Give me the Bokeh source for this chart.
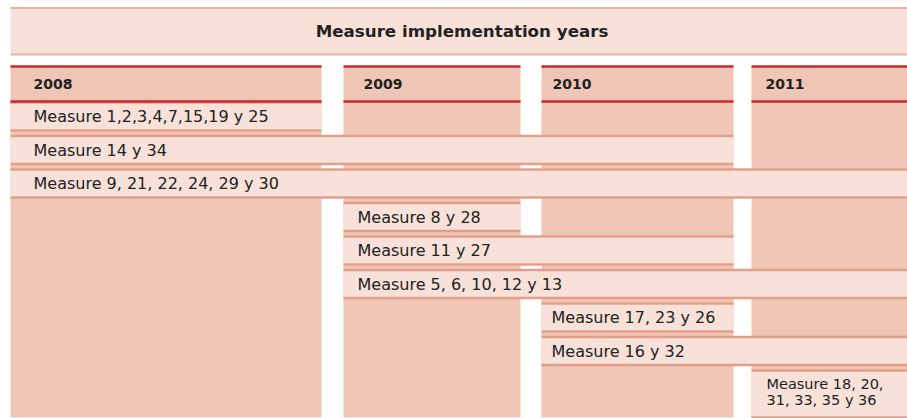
from bokeh.plotting import figure
from bokeh.models import Range1d, ColumnDataSource
from bokeh.embed import file_html
from bokeh.resources import INLINE
from bokeh.core.properties import value

# ---------------- data ----------------
title = "Measure implementation years"
years = [2008, 2009, 2010, 2011]
year_labels = ["2008", "2009", "2010", "2011"]
measures = [
    "Measure 1,2,3,4,7,15,19 y 25",
    "Measure 14 y 34",
    "Measure 9, 21, 22, 24, 29 y 30",
    "Measure 8 y 28",
    "Measure 11 y 27",
    "Measure 5, 6, 10, 12 y 13",
    "Measure 17, 23 y 26",
    "Measure 16 y 32",
    "Measure 18, 20,\n31, 33, 35 y 36",
]
start_year = [2008, 2008, 2008, 2009, 2009, 2009, 2010, 2010, 2011]
end_year = [2008, 2010, 2011, 2009, 2010, 2011, 2010, 2011, 2011]
measure_lines = [1, 1, 1, 1, 1, 1, 1, 1, 2]

# ---------------- layout (page pixels) ----------------
col_left = {2008: 10, 2009: 343, 2010: 541, 2011: 751}
col_right = {2008: 321, 2009: 520, 2010: 733, 2011: 907}
header_pad = {2008: 23, 2009: 20, 2010: 11, 2011: 14}
label_pad = {2008: 23, 2009: 14, 2010: 10, 2011: 15}
title_top, title_bottom = 7.5, 54
head_top, head_bottom = 66, 101
body_bottom = 417
row_top0, row_pitch, row_h, row_h2 = 102, 33.5, 28, 47

C_COL = "#EFC6B5"
C_BAR = "#F7E1D9"
C_LINE = "#E2A08A"
C_RED = "#C62A2F"
C_TXT = "#222222"
FONT = value("DejaVu Sans")

p = figure(width=907, height=418, x_range=Range1d(0, 907), y_range=Range1d(418, 0),
           output_backend="svg", toolbar_location=None, min_border=0,
           x_axis_location=None, y_axis_location=None)
p.grid.visible = False
p.outline_line_color = None
p.background_fill_color = "white"
p.border_fill_color = "white"

# title band
p.quad(left=[10], right=[907], top=[title_top], bottom=[title_bottom],
       fill_color=C_BAR, line_color=None)
p.segment(x0=[10, 10], x1=[907, 907], y0=[title_top, title_bottom], y1=[title_top, title_bottom],
          line_color="#E8B4A2", line_width=2)
p.text(x=[(10 + 907) / 2 + 3], y=[(title_top + title_bottom) / 2], text=[title],
       text_align="center", text_baseline="middle", text_font=FONT,
       text_font_style="bold", text_font_size="16.7px", text_color=C_TXT)

# year columns
cols = ColumnDataSource(dict(
    left=[col_left[y] for y in years], right=[col_right[y] for y in years],
    tx=[col_left[y] + header_pad[y] for y in years], label=year_labels))
p.quad(left="left", right="right", top=head_top, bottom=body_bottom, source=cols,
       fill_color=C_COL, line_color=None)

# bars
tops, bots, lefts, rights, tx, ty, fs = [], [], [], [], [], [], []
for i, (s, e, n) in enumerate(zip(start_year, end_year, measure_lines)):
    t = row_top0 + i * row_pitch
    b = t + (row_h if n == 1 else row_h2)
    tops.append(t); bots.append(b)
    lefts.append(col_left[s]); rights.append(col_right[e])
    tx.append(col_left[s] + label_pad[s]); ty.append((t + b) / 2 - (2 if n == 2 else 0))
    fs.append("16px" if n == 1 else "14.5px")
bars = ColumnDataSource(dict(top=tops, bottom=bots, left=lefts, right=rights,
                             tx=tx, ty=ty, fs=fs, label=measures))
p.quad(left="left", right="right", top="top", bottom="bottom", source=bars,
       fill_color=C_BAR, line_color=None)
p.segment(x0="left", x1="right", y0="top", y1="top", source=bars, line_color=C_LINE, line_width=2.5)
p.segment(x0="left", x1="right", y0="bottom", y1="bottom", source=bars, line_color=C_LINE, line_width=2.5)
p.text(x="tx", y="ty", text="label", source=bars, text_align="left", text_baseline="middle",
       text_font=FONT, text_font_size="fs", text_color=C_TXT, text_line_height=1.0)

# header red lines and labels
p.segment(x0="left", x1="right", y0=head_top, y1=head_top, source=cols, line_color=C_RED, line_width=2.5)
p.segment(x0="left", x1="right", y0=head_bottom, y1=head_bottom, source=cols, line_color=C_RED, line_width=2.5)
p.text(x="tx", y=(head_top + head_bottom) / 2, text="label", source=cols,
       text_align="left", text_baseline="middle", text_font=FONT, text_font_style="bold",
       text_font_size="14px", text_color=C_TXT)

open("out.html", "w").write(file_html(p, INLINE))
